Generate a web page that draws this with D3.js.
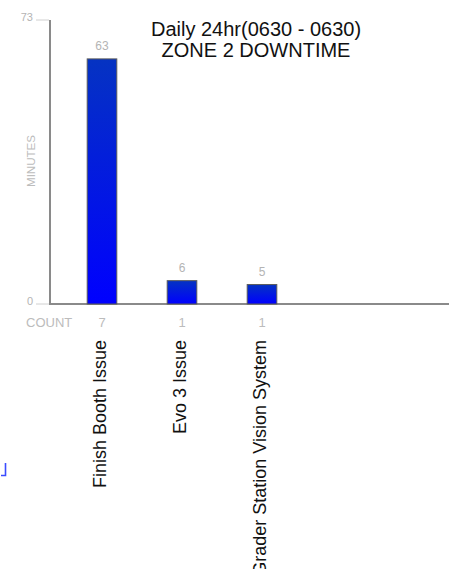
<!DOCTYPE html>
<html><head><meta charset="utf-8">
<script src="https://cdn.jsdelivr.net/npm/d3@7"></script>
<style>body{margin:0;background:#fff;}svg{display:block;font-family:"Liberation Sans",Arial,sans-serif;}</style>
</head><body>
<script>
const categories = ["Finish Booth Issue", "Evo 3 Issue", "Grader Station Vision System"];
const minutes = [63, 6, 5];
const counts = [7, 1, 1];
const yTicks = [0, 73];
const titleLines = ["Daily 24hr(0630 - 0630)", "ZONE 2 DOWNTIME"];

const W = 449, H = 569;
const svg = d3.select("body").append("svg").attr("width", W).attr("height", H);

const defs = svg.append("defs");
const grad = defs.append("linearGradient").attr("id", "barGrad").attr("x1", 0).attr("y1", 0).attr("x2", 0).attr("y2", 1);
grad.append("stop").attr("offset", "0%").attr("stop-color", "#0533c2");
grad.append("stop").attr("offset", "100%").attr("stop-color", "#0000ff");

const y = d3.scaleLinear().domain([0, 73]).range([304, 20]);
const x = d3.scaleBand().domain(categories).range([62, 62 + 80 * categories.length]).paddingInner(0.63).paddingOuter(0.315);

// axes lines
svg.append("line").attr("x1", 50).attr("x2", 50).attr("y1", y(73)).attr("y2", y(0) + 1).attr("stroke", "#8a8a8a").attr("stroke-width", 2);
svg.append("line").attr("x1", 49).attr("x2", W).attr("y1", y(0)).attr("y2", y(0)).attr("stroke", "#8a8a8a").attr("stroke-width", 2);

// y ticks
const tg = svg.append("g");
tg.selectAll("line").data(yTicks).join("line")
  .attr("x1", 36).attr("x2", 49).attr("y1", d => y(d)).attr("y2", d => y(d))
  .attr("stroke", "#d0d0d0").attr("stroke-width", 1);
tg.selectAll("text").data(yTicks).join("text")
  .attr("x", 33).attr("y", d => y(d) + 0.5).attr("text-anchor", "end")
  .attr("font-size", 11).attr("fill", "#b4b4b4").text(d => d);

// y axis title
svg.append("text").attr("transform", "translate(35,161) rotate(-90)")
  .attr("text-anchor", "middle").attr("font-size", 11).attr("fill", "#bcbcbc")
  .attr("textLength", 52).attr("lengthAdjust", "spacingAndGlyphs").text("MINUTES");

// bars
svg.selectAll("rect.bar").data(categories).join("rect").attr("class", "bar")
  .attr("x", d => x(d)).attr("width", x.bandwidth())
  .attr("y", (d, i) => y(minutes[i])).attr("height", (d, i) => y(0) - y(minutes[i]))
  .attr("fill", "url(#barGrad)").attr("stroke", "#5a5a5a").attr("stroke-width", 1);

// value labels
svg.selectAll("text.val").data(categories).join("text").attr("class", "val")
  .attr("x", d => x(d) + x.bandwidth() / 2).attr("y", (d, i) => y(minutes[i]) - 8.5)
  .attr("text-anchor", "middle").attr("font-size", 12).attr("fill", "#b4b4b4")
  .text((d, i) => minutes[i]);

// count row
svg.append("text").attr("x", 26).attr("y", 327).attr("font-size", 13).attr("fill", "#bcbcbc").text("COUNT");
svg.selectAll("text.cnt").data(categories).join("text").attr("class", "cnt")
  .attr("x", d => x(d) + x.bandwidth() / 2).attr("y", 327)
  .attr("text-anchor", "middle").attr("font-size", 13).attr("fill", "#bcbcbc")
  .text((d, i) => counts[i]);

// category labels
svg.selectAll("text.cat").data(categories).join("text").attr("class", "cat")
  .attr("transform", d => `translate(${x(d) + x.bandwidth() / 2 + 4},340) rotate(-90)`)
  .attr("text-anchor", "end").attr("font-size", 18).attr("fill", "#111")
  .text(d => d);

// title
svg.selectAll("text.title").data(titleLines).join("text").attr("class", "title")
  .attr("x", 256).attr("y", (d, i) => 36 + i * 21).attr("text-anchor", "middle")
  .attr("font-size", 20).attr("fill", "#111").text(d => d);

// small blue mark at left
svg.append("path").attr("d", "M5.5,463 V475.5 H1").attr("fill", "none").attr("stroke", "#3b4cff").attr("stroke-width", 1.6);
</script>
</body></html>
